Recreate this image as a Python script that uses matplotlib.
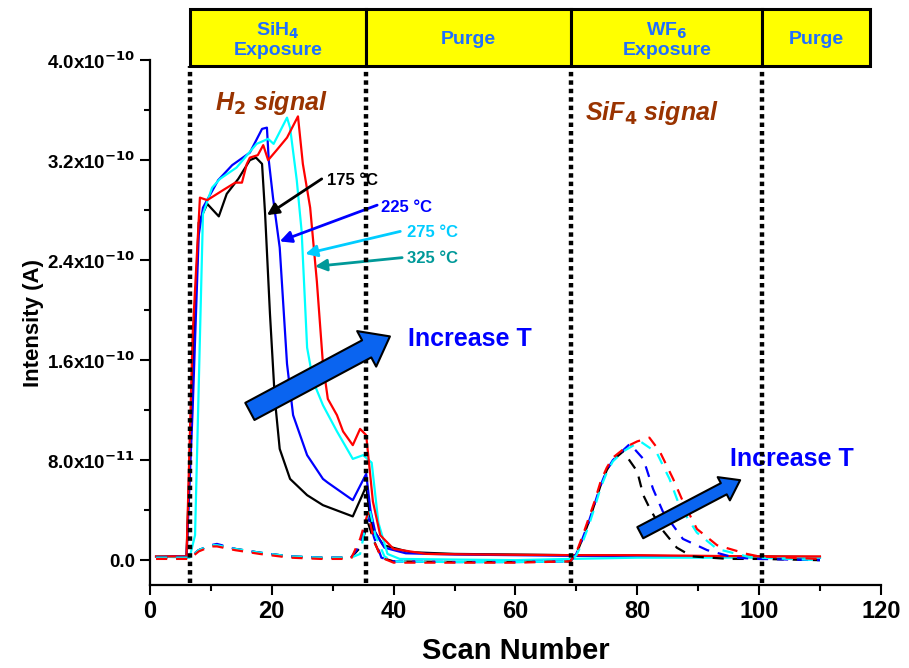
import matplotlib
matplotlib.use('Agg')
import matplotlib.pyplot as plt
import matplotlib.transforms as mtransforms
from matplotlib.patches import Rectangle, FancyArrowPatch

plt.rcParams['font.family'] = ['Liberation Sans', 'DejaVu Sans']
plt.rcParams['font.weight'] = 'bold'
narrow = ['Liberation Sans Narrow', 'Liberation Sans', 'DejaVu Sans']

# ---- data (intensity in units of 1e-10 A) ----
# solid lines: H2 signal
x_175 = [1, 6, 7, 8, 9.4, 11.3, 12.6, 14.5, 16.4, 17.4, 18.4, 18.9, 19.7, 20.5, 21.3, 23, 25.8, 28.4,
         33.3, 35.5, 36.1, 36.6, 38.3, 42.7, 50, 60, 69, 80, 90, 100, 110]
y_175 = [0.03, 0.03, 1.5, 2.7, 2.85, 2.75, 2.93, 3.05, 3.2, 3.22, 3.17, 2.77, 1.97, 1.29, 0.89, 0.65, 0.52, 0.44,
         0.35, 0.59, 0.36, 0.25, 0.12, 0.064, 0.05, 0.045, 0.04, 0.035, 0.03, 0.03, 0.025]

x_225 = [1, 6, 7, 8, 8.7, 11.2, 13.5, 16.4, 18.4, 19.2, 19.5, 20.2, 21.3, 22.5, 23.5, 25.8, 28.4, 29.2,
         33.3, 35.5, 36.2, 37, 38.5, 42, 50, 60, 69, 80, 90, 100, 110]
y_225 = [0.03, 0.03, 1.2, 2.6, 2.82, 3.04, 3.16, 3.26, 3.45, 3.46, 3.2, 2.9, 2.5, 1.57, 1.16, 0.84, 0.65, 0.62,
         0.48, 0.69, 0.4, 0.22, 0.1, 0.055, 0.045, 0.04, 0.035, 0.03, 0.03, 0.025, 0.02]

x_275 = [1, 6.5, 7.4, 8.7, 10.2, 11.5, 14.2, 17.5, 19.4, 20.3, 22.5, 23, 24.1, 24.9, 25.8, 26.8, 28.4, 30.7,
         33.3, 35, 36.4, 37.5, 39, 41, 50, 60, 69, 80, 90, 100, 110]
y_275 = [0.03, 0.02, 0.2, 2.77, 2.98, 3.05, 3.14, 3.33, 3.37, 3.33, 3.54, 3.46, 3.04, 2.63, 1.7, 1.43, 1.24, 1.03,
         0.81, 0.84, 0.78, 0.3, 0.05, 0.01, 0.005, 0.0, 0.01, 0.02, 0.02, 0.02, 0.02]

x_325 = [1, 6, 7, 8.2, 9.4, 12, 14, 15.1, 15.9, 16.4, 17.7, 18.6, 19.4, 20.8, 22.5, 24.3, 25.1, 26.3, 27.4,
         28.4, 29.2, 30.7, 31.7, 33.3, 34.5, 35.5, 36.6, 37.8, 40, 45.4, 55, 69, 80, 90, 100, 110]
y_325 = [0.03, 0.03, 1.8, 2.9, 2.88, 2.96, 3.02, 3.02, 3.17, 3.22, 3.24, 3.32, 3.2, 3.28, 3.38, 3.55, 3.17, 2.82, 2.23,
         1.57, 1.29, 1.16, 1.03, 0.92, 1.05, 1.0, 0.47, 0.2, 0.09, 0.05, 0.045, 0.04, 0.04, 0.035, 0.03, 0.03]

# dashed lines: SiF4 signal
xd_175 = [1, 6.5, 8, 10, 11, 14, 18, 23, 28, 33, 34.5, 35.8, 36.8, 38, 40, 50, 60, 69,
          70, 71, 72, 73, 74, 75, 76, 77.7, 80, 81, 82.1, 84, 86.5, 89, 95, 100, 110]
yd_175 = [0.02, 0.02, 0.08, 0.12, 0.12, 0.09, 0.06, 0.03, 0.02, 0.02, 0.1, 0.3, 0.15, 0.02, -0.01, -0.015, -0.015, -0.01,
          0.05, 0.17, 0.3, 0.45, 0.6, 0.72, 0.8, 0.87, 0.71, 0.52, 0.41, 0.25, 0.1, 0.03, 0.01, 0.01, 0.0]

xd_225 = [1, 6.5, 8, 10, 11, 14, 18, 23, 28, 33, 34.5, 35.8, 36.8, 38, 40, 50, 60, 69,
          70, 71, 72, 73, 74, 75, 76, 77.7, 78.8, 81, 82.6, 84.2, 87.5, 91.5, 96, 100, 110]
yd_225 = [0.02, 0.02, 0.08, 0.12, 0.13, 0.09, 0.06, 0.03, 0.02, 0.02, 0.12, 0.35, 0.18, 0.02, -0.01, -0.015, -0.015, -0.01,
          0.05, 0.17, 0.3, 0.45, 0.6, 0.72, 0.8, 0.88, 0.93, 0.81, 0.57, 0.39, 0.17, 0.08, 0.02, 0.01, 0.0]

xd_275 = [1, 6.5, 8, 10, 11, 14, 18, 23, 28, 33, 34.5, 36, 37, 38.5, 40, 50, 60, 69,
          70, 71, 72, 73, 74, 75, 76, 77.7, 80.5, 83.2, 85.3, 86.9, 89.8, 93.1, 98, 100, 110]
yd_275 = [0.02, 0.02, 0.08, 0.12, 0.12, 0.09, 0.06, 0.03, 0.02, 0.02, 0.05, 0.42, 0.2, 0.03, -0.01, -0.015, -0.015, -0.01,
          0.04, 0.14, 0.27, 0.42, 0.58, 0.7, 0.79, 0.87, 0.95, 0.86, 0.65, 0.44, 0.22, 0.09, 0.03, 0.02, 0.0]

xd_325 = [1, 6.5, 8, 10, 11, 14, 18, 23, 28, 33, 34.5, 35.8, 36.8, 38, 40, 50, 60, 69,
          70, 71, 72, 73, 74, 75, 76, 78.3, 80, 82, 83.7, 85.9, 87.5, 89.8, 93.1, 98, 100, 110]
yd_325 = [0.01, 0.01, 0.07, 0.11, 0.11, 0.08, 0.05, 0.02, 0.01, 0.01, 0.17, 0.38, 0.15, 0.02, -0.02, -0.02, -0.02, -0.01,
          0.06, 0.19, 0.33, 0.47, 0.63, 0.74, 0.82, 0.91, 0.95, 0.98, 0.87, 0.65, 0.47, 0.25, 0.12, 0.05, 0.03, 0.01]

y_ticks = [0.0, 0.8, 1.6, 2.4, 3.2, 4.0]
y_ticklabels = ['0.0', '8.0x10$^{-11}$', '1.6x10$^{-10}$', '2.4x10$^{-10}$', '3.2x10$^{-10}$', '4.0x10$^{-10}$']

phase_edges = [6.5, 35.5, 69.2, 100.5, 118.3]
phase_names = ['SiH$_4$\nExposure', 'Purge', 'WF$_6$\nExposure', 'Purge']
divider_x = [6.5, 35.5, 69.2, 100.5]

temps = ['175 \u00b0C', '225 \u00b0C', '275 \u00b0C', '325 \u00b0C']
line_colors = ['black', '#0000ff', '#00ffff', '#ff0000']
label_colors = ['black', '#0000ff', '#00ccff', '#009999']

fig = plt.figure(figsize=(9.09, 6.68), dpi=100)
ax = fig.add_axes([0.165, 0.124, 0.804, 0.786])

solids = [(x_175, y_175), (x_225, y_225), (x_275, y_275), (x_325, y_325)]
dashed = [(xd_175, yd_175), (xd_225, yd_225), (xd_275, yd_275), (xd_325, yd_325)]
for (xs, ys), c in zip(solids, line_colors):
    ax.plot(xs, ys, color=c, lw=1.6)
for (xs, ys), c in zip(dashed, line_colors):
    ax.plot(xs, ys, color=c, lw=1.6, dashes=(5, 4))

ax.set_xlim(0, 120)
ax.set_ylim(-0.2, 4.0)
ax.set_xticks(range(0, 121, 20))
ax.set_xticks(range(10, 120, 20), minor=True)
ax.set_yticks(y_ticks)
ax.set_yticklabels(y_ticklabels)
ax.set_yticks([0.4, 1.2, 2.0, 2.8, 3.6], minor=True)
ax.tick_params(which='major', length=7, width=1.5, labelsize=13.5, direction='out')
ax.tick_params(which='minor', length=4, width=1.5, direction='out')
for lab in ax.get_yticklabels():
    lab.set_fontweight('bold')
for lab in ax.get_xticklabels():
    lab.set_fontweight('bold')
    lab.set_family(narrow)
    lab.set_fontsize(17)
for s in ['top', 'right']:
    ax.spines[s].set_visible(False)
for s in ['left', 'bottom']:
    ax.spines[s].set_linewidth(1.6)

ax.set_xlabel('Scan Number', fontsize=21, fontweight='bold', labelpad=10, family=narrow)
ax.set_ylabel('Intensity (A)', fontsize=16, fontweight='bold', labelpad=2)

# phase dividers and boxes above the axes
trans = mtransforms.blended_transform_factory(ax.transData, ax.transAxes)
box_y0, box_y1 = 0.989, 1.097
for xv in divider_x:
    ax.plot([xv, xv], [0.004, box_y0], transform=trans, clip_on=False, color='black',
            lw=3.2, dashes=(1.0, 0.9), solid_capstyle='butt', dash_capstyle='butt', zorder=5)
for i, name in enumerate(phase_names):
    x0, x1 = phase_edges[i], phase_edges[i + 1]
    ax.add_patch(Rectangle((x0, box_y0), x1 - x0, box_y1 - box_y0, transform=trans, clip_on=False,
                           facecolor='#ffff00', edgecolor='black', lw=2.2, zorder=6))
    ax.text((x0 + x1) / 2, (box_y0 + box_y1) / 2 - 0.004, name, transform=trans, ha='center', va='center',
            fontsize=14, fontweight='bold', color='#1f6fff', linespacing=1.1, zorder=7)

ax.text(10.7, 3.66, 'H$_2$ signal', fontsize=18, fontweight='bold', style='italic',
        color='#993300', va='center')
ax.text(71.4, 3.58, 'SiF$_4$ signal', fontsize=18, fontweight='bold', style='italic',
        color='#993300', va='center')

# temperature labels with pointer arrows
label_pos = [(29.1, 3.04), (37.9, 2.82), (42.2, 2.62), (42.2, 2.41)]
arrow_tail = [(28.2, 3.05), (37.3, 2.84), (41.1, 2.63), (41.4, 2.42)]
arrow_head = [(19.2, 2.76), (21.3, 2.55), (25.5, 2.45), (27.1, 2.35)]
for t, c, lp, at, ah in zip(temps, label_colors, label_pos, arrow_tail, arrow_head):
    ax.text(lp[0], lp[1], t, color=c, fontsize=12, fontweight='bold', va='center')
    ax.annotate('', xy=ah, xytext=at,
                arrowprops=dict(arrowstyle='-|>,head_width=0.35,head_length=0.7', color=c, lw=2,
                                shrinkA=0, shrinkB=0))

# big "Increase T" arrows
ax.add_patch(FancyArrowPatch((16.4, 1.19), (39.4, 1.79),
                             arrowstyle='simple,head_width=1.45,head_length=0.95,tail_width=0.7',
                             mutation_scale=20, fc='#0a64f0', ec='black', lw=1.5, zorder=8,
                             shrinkA=0, shrinkB=0))
ax.text(42.4, 1.77, 'Increase T', fontsize=18, fontweight='bold', color='#0000ff', va='center')
ax.add_patch(FancyArrowPatch((80.5, 0.22), (96.9, 0.64),
                             arrowstyle='simple,head_width=1.35,head_length=0.95,tail_width=0.65',
                             mutation_scale=14, fc='#0a64f0', ec='black', lw=1.5, zorder=8,
                             shrinkA=0, shrinkB=0))
ax.text(95.2, 0.81, 'Increase T', fontsize=18, fontweight='bold', color='#0000ff', va='center')

fig.savefig('out.png', dpi=100)
